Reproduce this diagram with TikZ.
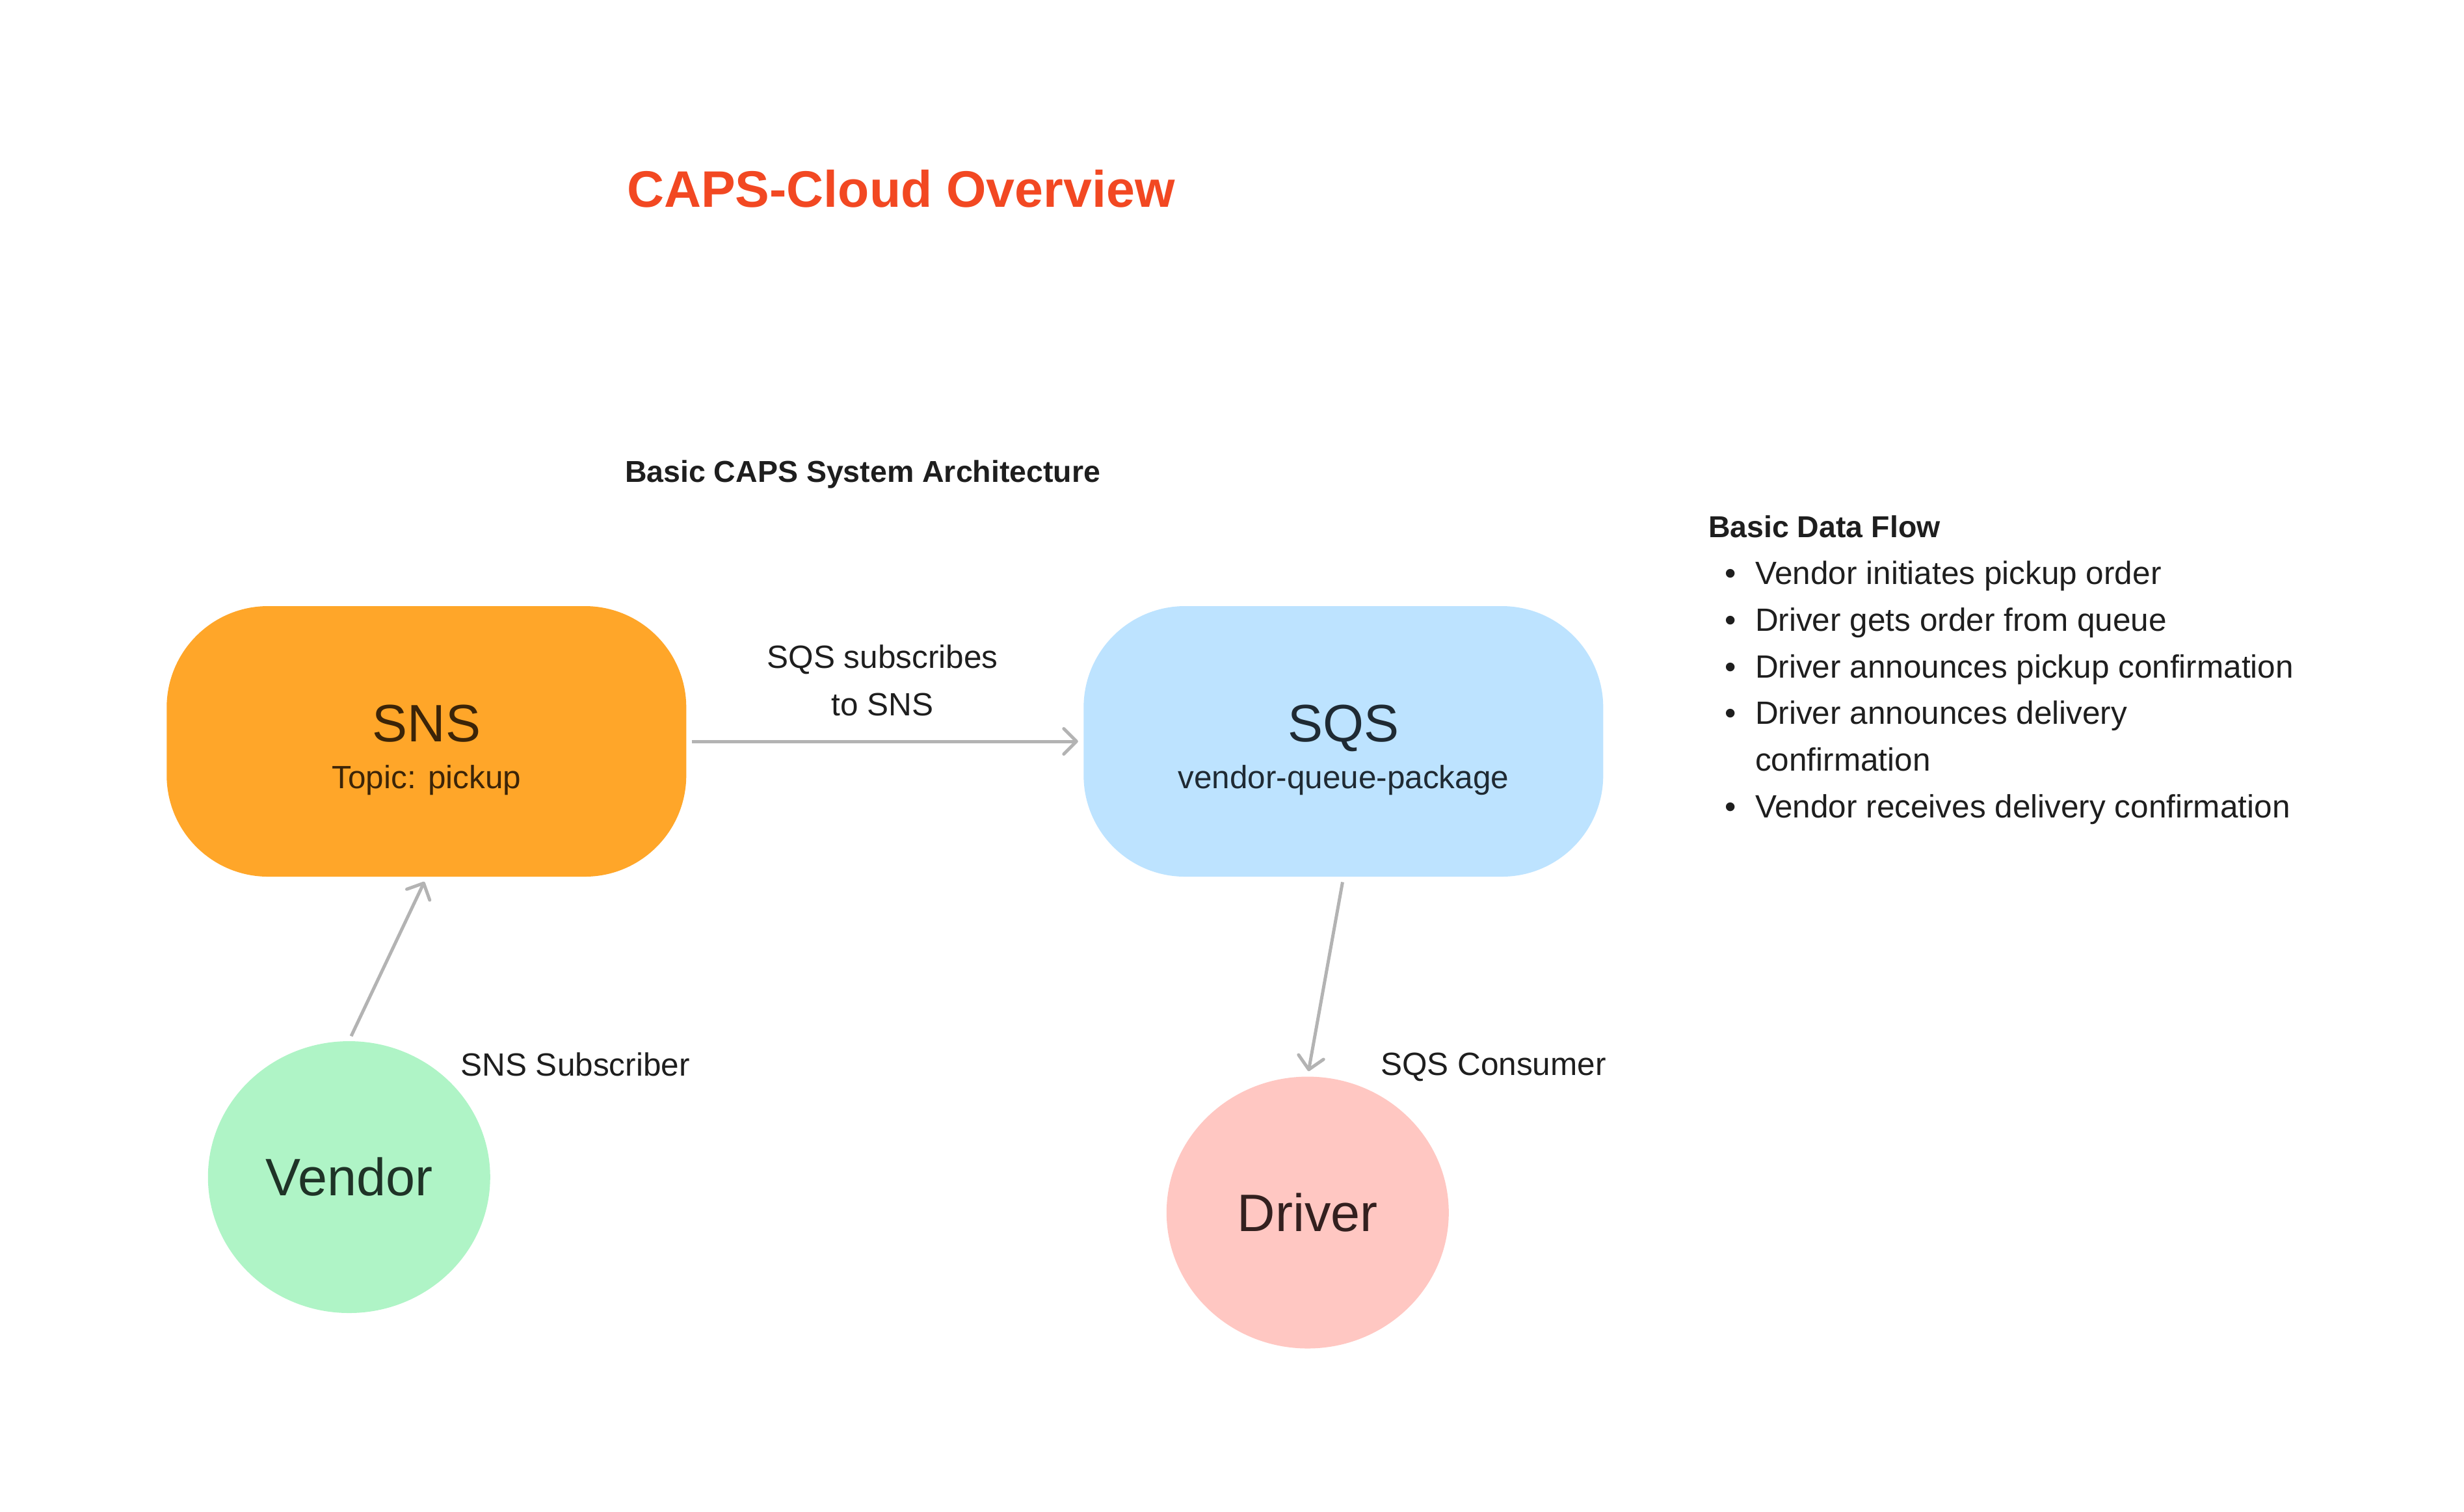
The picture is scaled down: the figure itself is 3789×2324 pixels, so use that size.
\documentclass[tikz,border=0pt]{standalone}
\usepackage{fontspec}
\setmainfont{Liberation Sans}
\usetikzlibrary{arrows.meta,positioning,shapes.geometric}

\definecolor{snsorange}{HTML}{FFA629}
\definecolor{sqsblue}{HTML}{BDE3FF}
\definecolor{vendorgreen}{HTML}{AFF4C6}
\definecolor{driverpink}{HTML}{FFC7C2}
\definecolor{titlered}{HTML}{F24822}
\definecolor{inkgray}{HTML}{1E1E1E}
\definecolor{linkgray}{HTML}{B3B3B3}
\definecolor{snsink}{HTML}{3B2408}
\definecolor{sqsink}{HTML}{1F2A33}
\definecolor{vendorink}{HTML}{1F3327}
\definecolor{driverink}{HTML}{33201F}

\begin{document}
\begin{tikzpicture}[x=0.2pt,y=-0.2pt,
  service/.style={rectangle,rounded corners=31.2pt,minimum width=159.8pt,minimum height=83.2pt,inner sep=0pt},
  actor/.style={ellipse,minimum width=86.8pt,minimum height=83.6pt,inner sep=0pt,font=\fontsize{16.2}{19}\selectfont},
  bigname/.style={anchor=base,inner sep=0pt,font=\fontsize{16.2}{19}\selectfont},
  plain/.style={inner sep=0pt,text=inkgray,font=\fontsize{9.9}{14.5}\selectfont},
  heading/.style={anchor=base west,inner sep=0pt,text=inkgray,font=\bfseries\fontsize{9.3}{14}\selectfont},
  link/.style={draw=linkgray,line width=1pt,-{Straight Barb[length=3.9pt,width=7.8pt,round]},shorten <=1.5pt,shorten >=1.5pt}]
\useasboundingbox (0,0) rectangle (3789,2324);

\node[anchor=base west,inner sep=0pt,text=titlered,font=\bfseries\fontsize{15.8}{19}\selectfont] (title) at (963,318) {CAPS-Cloud Overview};
\node[heading] (archhead) at (960,741) {Basic CAPS System Architecture};

% services
\node[service,fill=snsorange] (sns) at (655.8,1140) {};
\node[service,fill=sqsblue,right=121.8pt of sns] (sqs) {};
\node[bigname,text=snsink] (snsname) at (sns.center) {SNS};
\node[plain,anchor=base,text=snsink] (snstopic) at ([yshift=-14.4pt]sns.center) {Topic: pickup};
\node[bigname,text=sqsink] (sqsname) at (sqs.center) {SQS};
\node[plain,anchor=base,text=sqsink] (sqsqueue) at ([yshift=-14.4pt]sqs.center) {vendor-queue-package};

% actors
\node[actor,fill=vendorgreen,text=vendorink,below=50.2pt of sns,xshift=-23.8pt] (vendor) {Vendor};
\node[actor,fill=driverpink,text=driverink,below=61.1pt of sqs,xshift=-11pt] (driver) {Driver};

\draw[link] (sns) -- (sqs);
\draw[link] (vendor.north) -- (sns.south);
\draw[link] (sqs.south) -- (driver.north);

\node[plain,align=center,anchor=base] (sublabel) at (1357,1100) {SQS subscribes\\to SNS};
\node[plain,anchor=base west] (snssub) at (707.5,1654) {SNS Subscriber};
\node[plain,anchor=base west] (sqscons) at (2122,1653) {SQS Consumer};

% data flow
\node[heading] (flowhead) at (2626,826) {Basic Data Flow};
\node[plain,anchor=base] (b1) at (2661,898) {•};
\node[plain,anchor=base west] (f1) at (2698,898) {Vendor initiates pickup order};
\node[plain,anchor=base] (b2) at (2661,970) {•};
\node[plain,anchor=base west] (f2) at (2698,970) {Driver gets order from queue};
\node[plain,anchor=base] (b3) at (2661,1042) {•};
\node[plain,anchor=base west] (f3) at (2698,1042) {Driver announces pickup confirmation};
\node[plain,anchor=base] (b4) at (2661,1113) {•};
\node[plain,anchor=base west] (f4) at (2698,1113) {Driver announces delivery};
\node[plain,anchor=base west] (f4b) at (2698,1185) {confirmation};
\node[plain,anchor=base] (b5) at (2661,1257) {•};
\node[plain,anchor=base west] (f5) at (2698,1257) {Vendor receives delivery confirmation};
\end{tikzpicture}
\end{document}
